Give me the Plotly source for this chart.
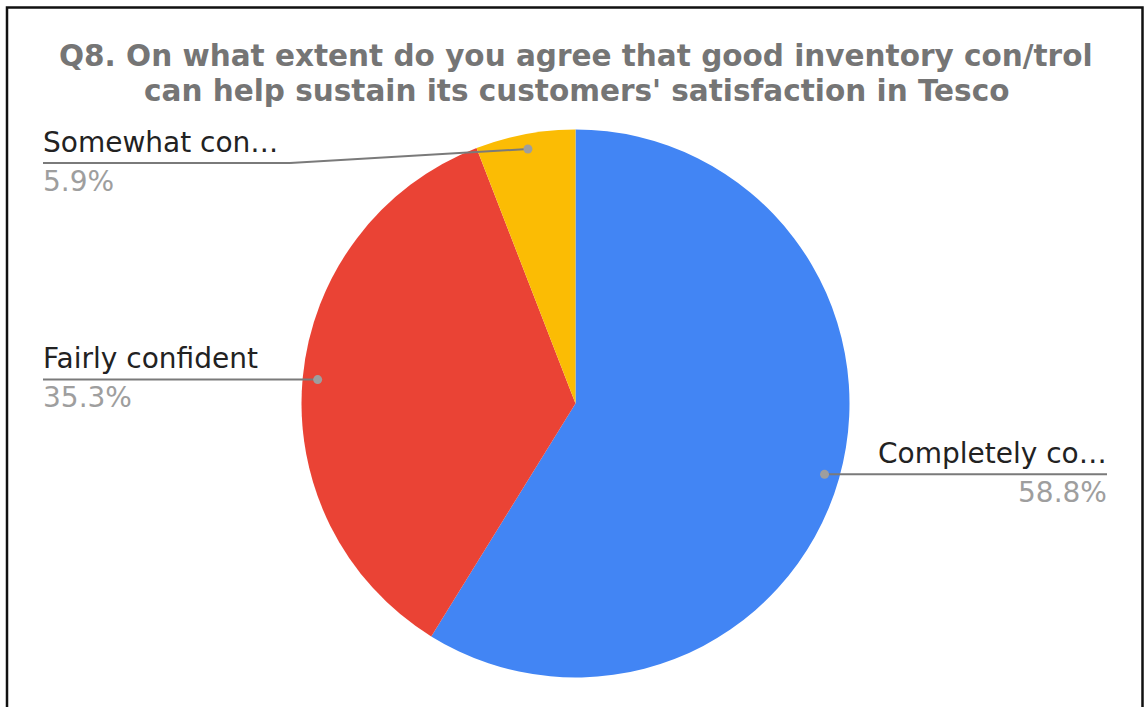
import math
import plotly.graph_objects as go

# Survey answers (counts of respondents)
categories = ["Completely confident", "Fairly confident", "Somewhat confident"]
short_labels = ["Completely co…", "Fairly confident", "Somewhat con…"]
counts = [10, 6, 1]
colors = ["#4285F4", "#EA4335", "#FBBC04"]

title_lines = [
    "Q8. On what extent do you agree that good inventory con/trol",
    "can help sustain its customers' satisfaction in Tesco",
]

W, H = 1144, 707
CX, CY, R = 575.5, 403.5, 274.0


def px(x):
    return x / W


def py(y):
    return 1 - y / H


fig = go.Figure(
    go.Pie(
        labels=categories,
        values=counts,
        marker=dict(colors=colors, line=dict(width=0)),
        sort=False,
        direction="clockwise",
        rotation=0,
        textinfo="none",
        hoverinfo="label+percent",
        showlegend=False,
        domain=dict(x=[px(CX - R), px(CX + R)], y=[py(CY + R), py(CY - R)]),
    )
)

shapes = []
annotations = []

# frame around the chart area
shapes.append(dict(type="rect", xref="paper", yref="paper",
                   x0=px(7), x1=px(1142.5), y0=py(760), y1=py(7.5),
                   line=dict(color="#111111", width=2.5), fillcolor="rgba(0,0,0,0)"))

# title (two lines)
for i, line in enumerate(title_lines):
    annotations.append(dict(text=line, xref="paper", yref="paper",
                            x=px(576), y=py(56 + 35 * i), xanchor="center", yanchor="middle",
                            showarrow=False, borderpad=0,
                            font=dict(family="DejaVu Sans", size=29.5, color="#757575", weight="bold")))

# leader lines and outside labels, placed from slice mid-angles
total = sum(counts)
label_side = ["right", "left", "left"]
label_line_y = [None, None, 163]  # None -> follow the dot's height
elbow_x = [None, None, 290]
left_x, right_x = 43, 1107
dot_r = 0.945 * R
label_font = "DejaVu Sans"

cum = 0
for i, v in enumerate(counts):
    mid = (cum + v / 2) / total * 2 * math.pi
    cum += v
    dx = CX + dot_r * math.sin(mid)
    dy = CY - dot_r * math.cos(mid)
    ly = dy if label_line_y[i] is None else label_line_y[i]
    if label_side[i] == "right":
        end_x = right_x
        anchor = "right"
    else:
        end_x = left_x
        anchor = "left"
    if elbow_x[i] is not None:
        shapes.append(dict(type="line", xref="paper", yref="paper",
                           x0=px(dx), y0=py(dy), x1=px(elbow_x[i]), y1=py(ly),
                           line=dict(color="#7a7a7a", width=2)))
        shapes.append(dict(type="line", xref="paper", yref="paper",
                           x0=px(elbow_x[i]), y0=py(ly), x1=px(end_x), y1=py(ly),
                           line=dict(color="#7a7a7a", width=2)))
    else:
        shapes.append(dict(type="line", xref="paper", yref="paper",
                           x0=px(dx), y0=py(ly), x1=px(end_x), y1=py(ly),
                           line=dict(color="#7a7a7a", width=2)))
    shapes.append(dict(type="circle", xref="paper", yref="paper",
                       xsizemode="pixel", ysizemode="pixel",
                       xanchor=px(dx), yanchor=py(dy), x0=-4.5, x1=4.5, y0=-4.5, y1=4.5,
                       fillcolor="#9e9e9e", line=dict(width=0)))
    pct = f"{v / total * 100:.1f}%"
    annotations.append(dict(text=short_labels[i], xref="paper", yref="paper",
                            x=px(end_x), y=py(ly - 21), xanchor=anchor, yanchor="middle",
                            showarrow=False, xshift=-2 if anchor == "left" else 2,
                            font=dict(family=label_font, size=28, color="#222222")))
    annotations.append(dict(text=pct, xref="paper", yref="paper",
                            x=px(end_x), y=py(ly + 18), xanchor=anchor, yanchor="middle",
                            showarrow=False, xshift=-2 if anchor == "left" else 2,
                            font=dict(family=label_font, size=28, color="#9e9e9e")))

fig.update_layout(
    width=W, height=H, autosize=False,
    margin=dict(l=0, r=0, t=0, b=0),
    paper_bgcolor="white", plot_bgcolor="white",
    shapes=shapes, annotations=annotations,
)

fig.write_html("out.html")
